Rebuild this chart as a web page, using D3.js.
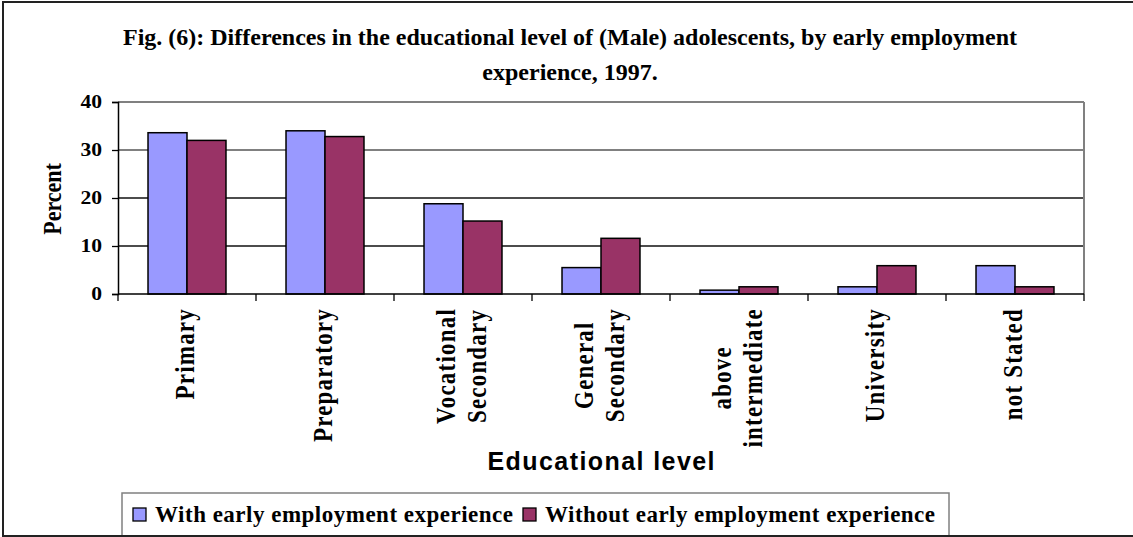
<!DOCTYPE html>
<meta charset="utf-8">
<script src="https://d3js.org/d3.v7.min.js"></script>
<style>
  body { margin: 0; background: #fff; }
  text { font-family: "Liberation Serif", "Times New Roman", Times, serif; font-weight: bold; fill: #000; }
</style>
<div id="chart"></div>
<script>
// chart values
var categories = ["Primary", "Preparatory", "Vocational\nSecondary", "General\nSecondary",
                  "above\nintermediate", "University", "not Stated"];
var withExp = [33.6, 34.0, 18.8, 5.5, 0.8, 1.5, 5.9];
var withoutExp = [32.0, 32.8, 15.2, 11.6, 1.5, 5.9, 1.5];
var seriesNames = ["With early employment experience", "Without early employment experience"];
var yTicks = [0, 10, 20, 30, 40];
var titleLines = ["Fig. (6): Differences in the educational level of (Male) adolescents, by early employment",
                  "experience, 1997."];

var W = 1133, H = 537;
var margin = {top: 102, left: 118},
    width = 966, height = 192;

var svg = d3.select("#chart").append("svg")
    .attr("width", W)
    .attr("height", H);

// outer frame
svg.append("rect")
    .attr("x", 3).attr("y", 2)
    .attr("width", W + 10).attr("height", 534)
    .attr("fill", "none").attr("stroke", "#222").attr("stroke-width", 2);

// title
svg.selectAll(".title")
  .data(titleLines)
  .enter().append("text")
    .attr("class", "title")
    .attr("x", 570)
    .attr("y", function(d, i) { return 45 + i * 35; })
    .attr("text-anchor", "middle")
    .style("font-size", "24px")
    .text(function(d) { return d; });

var g = svg.append("g")
    .attr("transform", "translate(" + margin.left + "," + margin.top + ")");

var x = d3.scaleBand()
    .domain(categories)
    .range([0, width])
    .paddingInner(0.435)
    .paddingOuter(0.2175);

var xSub = d3.scaleBand()
    .domain([0, 1])
    .range([0, x.bandwidth()]);

var y = d3.scaleLinear()
    .domain([0, 40])
    .range([height, 0]);

// gridlines
g.selectAll(".grid")
  .data(yTicks.filter(function(d) { return d > 0; }))
  .enter().append("line")
    .attr("x1", 0).attr("x2", width)
    .attr("y1", function(d) { return y(d); })
    .attr("y2", function(d) { return y(d); })
    .attr("stroke", function(d) { return d >= 30 ? "#808080" : "#111"; })
    .attr("stroke-width", function(d) { return d >= 30 ? 2 : 1.3; });

// right border of plot area
g.append("line")
    .attr("x1", width).attr("x2", width)
    .attr("y1", 0).attr("y2", height)
    .attr("stroke", "#808080").attr("stroke-width", 2);

// bars
var rows = categories.map(function(c, i) { return {cat: c, vals: [withExp[i], withoutExp[i]]}; });
var colors = ["#9999FF", "#993366"];

var groups = g.selectAll(".grp")
  .data(rows)
  .enter().append("g")
    .attr("transform", function(d) { return "translate(" + x(d.cat) + ",0)"; });

groups.selectAll("rect")
  .data(function(d) { return d.vals; })
  .enter().append("rect")
    .attr("x", function(d, i) { return xSub(i); })
    .attr("y", function(d) { return y(d); })
    .attr("width", xSub.bandwidth())
    .attr("height", function(d) { return height - y(d); })
    .attr("fill", function(d, i) { return colors[i]; })
    .attr("stroke", "#000")
    .attr("stroke-width", 1.5);

// y axis
var yAxis = g.append("g")
    .call(d3.axisLeft(y).tickValues(yTicks).tickSize(6).tickPadding(10));
yAxis.select(".domain").attr("stroke", "#000").attr("stroke-width", 1.5);
yAxis.selectAll(".tick line").attr("stroke", "#000").attr("stroke-width", 1.3);
yAxis.selectAll(".tick text")
    .style("font-family", "'Liberation Serif', 'Times New Roman', serif")
    .style("font-weight", "bold")
    .style("font-size", "18px")
    .attr("transform", "scale(1.2,1)")
    .attr("x", -16 / 1.2);

// x axis: baseline and ticks at category boundaries
g.append("line")
    .attr("x1", 0).attr("x2", width)
    .attr("y1", height).attr("y2", height)
    .attr("stroke", "#000").attr("stroke-width", 1.5);

var step = x.step();
g.selectAll(".xtick")
  .data(d3.range(categories.length + 1))
  .enter().append("line")
    .attr("x1", function(d) { return d * step; })
    .attr("x2", function(d) { return d * step; })
    .attr("y1", height).attr("y2", height + 7)
    .attr("stroke", "#000").attr("stroke-width", 1.3);

// category labels, rotated and slightly widened
var labelTop = 308, thick = 1.2;
categories.forEach(function(c) {
  var lines = c.split("\n");
  var cx = margin.left + x(c) + x.bandwidth() / 2;
  var t = svg.append("text")
      .attr("text-anchor", "middle")
      .style("font-size", "23px")
      .style("letter-spacing", "1.2px");
  lines.forEach(function(line, i) {
    t.append("tspan")
        .attr("x", 0)
        .attr("y", (7 + (i - (lines.length - 1) / 2) * 31) / thick)
        .text(line);
  });
  var maxLen = d3.max(t.selectAll("tspan").nodes(), function(n) { return n.getComputedTextLength(); });
  t.attr("transform", "translate(" + cx + "," + (labelTop + maxLen / 2) + ") rotate(-90) scale(1," + thick + ")");
});

// axis titles
svg.append("text")
    .attr("transform", "translate(61,199) rotate(-90) scale(1,1.15)")
    .attr("text-anchor", "middle")
    .style("font-size", "22px")
    .text("Percent");

svg.append("text")
    .attr("x", 601).attr("y", 470)
    .attr("text-anchor", "middle")
    .style("font-family", "'Liberation Sans', Arial, sans-serif")
    .style("font-size", "25px")
    .attr("textLength", 227)
    .text("Educational level");

// legend
svg.append("rect")
    .attr("x", 122).attr("y", 493)
    .attr("width", 827).attr("height", 60)
    .attr("fill", "#fff").attr("stroke", "#808080").attr("stroke-width", 1.5);

var legendX = [133, 523];
var legendW = [358, 390];
seriesNames.forEach(function(name, i) {
  svg.append("rect")
      .attr("x", legendX[i]).attr("y", 508)
      .attr("width", 13).attr("height", 13)
      .attr("fill", colors[i]).attr("stroke", "#000").attr("stroke-width", 1.3);
  svg.append("text")
      .attr("x", legendX[i] + 22).attr("y", 522)
      .style("font-size", "23px")
      .attr("textLength", legendW[i])
      .text(name);
});

// redraw frame bottom over legend box
svg.append("line")
    .attr("x1", 3).attr("x2", W).attr("y1", 536).attr("y2", 536)
    .attr("stroke", "#222").attr("stroke-width", 2);
</script>
